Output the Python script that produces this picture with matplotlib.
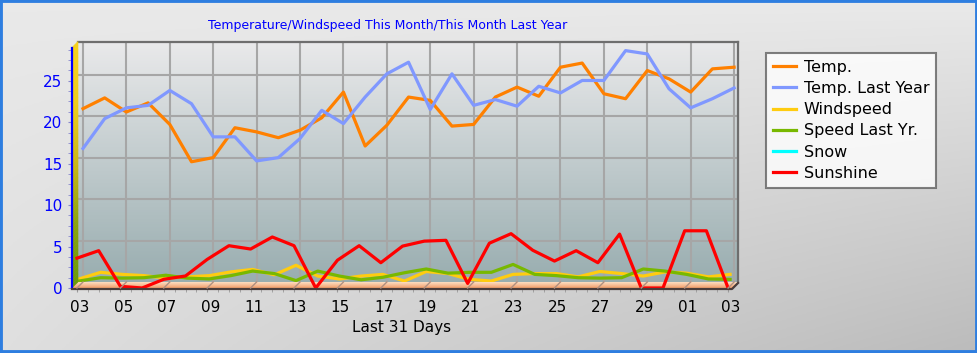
import numpy as np
import matplotlib
matplotlib.use("Agg")
import matplotlib.pyplot as plt
from matplotlib.patches import Polygon, Rectangle
from matplotlib.lines import Line2D
from matplotlib.ticker import MultipleLocator
from matplotlib import transforms

W, H = 978, 353

# data (31 days, 03 -> 03)
day_labels = ["03", "05", "07", "09", "11", "13", "15", "17",
              "19", "21", "23", "25", "27", "29", "01", "03"]
temp = [20.9, 22.2, 20.5, 21.6, 19.0, 14.5, 15.0, 18.6, 18.1, 17.4, 18.3,
        19.8, 22.9, 16.4, 18.9, 22.3, 21.9, 18.8, 19.0, 22.3, 23.5, 22.4,
        25.9, 26.4, 22.7, 22.1, 25.5, 24.5, 22.9, 25.7, 25.9]
temp_last = [16.1, 19.7, 21.0, 21.3, 23.1, 21.5, 17.5, 17.5, 14.6, 15.0, 17.3,
             20.7, 19.1, 22.3, 25.1, 26.5, 20.8, 25.1, 21.3, 22.0, 21.2, 23.6,
             22.8, 24.3, 24.3, 27.9, 27.5, 23.3, 21.0, 22.1, 23.4]
wind = [0.85, 1.65, 1.4, 1.25, 0.95, 1.1, 1.25, 1.7, 2.0, 1.35, 2.5, 1.2,
        0.85, 1.2, 1.4, 0.6, 1.75, 1.5, 0.8, 0.6, 1.4, 1.5, 1.5, 1.1, 1.75,
        1.5, 1.2, 1.7, 1.55, 1.1, 1.4]
wind_last = [0.6, 1.0, 0.95, 1.0, 1.3, 0.95, 0.85, 1.25, 1.8, 1.5, 0.65, 1.8,
             1.2, 0.75, 1.05, 1.6, 2.05, 1.55, 1.65, 1.65, 2.6, 1.4, 1.25, 1.0,
             0.95, 1.0, 2.05, 1.8, 1.4, 0.85, 0.8]
snow = []
sunshine = [3.6, 4.5, 0.2, 0.0, 1.05, 1.45, 3.45, 5.1, 4.7, 6.15, 5.1, 0.0,
            3.35, 5.1, 3.05, 5.05, 5.65, 5.75, 0.55, 5.4, 6.55, 4.55, 3.25,
            4.5, 3.05, 6.5, 0.0, 0.0, 6.9, 6.9, 0.0]

names = ["Temp.", "Temp. Last Year", "Windspeed", "Speed Last Yr.", "Snow", "Sunshine"]
colors = ["#ff8000", "#8098ff", "#ffcc10", "#78b800", "#00ffff", "#ff0000"]

x = np.arange(len(temp))
XLIM = (-0.23, 30.18)
YLIM = (0, 29)


def fx(px):
    return px / W


def fy(py):
    return 1 - py / H


def gradient_shape(fig, pts, stops, z):
    # vertical gradient through the colour stops, clipped to a polygon (pixel coords)
    xs = [p[0] for p in pts]
    ys = [p[1] for p in pts]
    x0, x1, y0, y1 = min(xs), max(xs), min(ys), max(ys)
    gax = fig.add_axes([fx(x0), fy(y1), fx(x1) - fx(x0), fy(y0) - fy(y1)], zorder=z)
    gax.axis("off")
    t = np.linspace(0, 1, 64)
    pos = np.linspace(0, 1, len(stops))
    img = np.stack([np.interp(t, pos, [s[k] for s in stops]) for k in range(3)], axis=-1)
    im = gax.imshow(np.repeat(img[:, None, :], 4, axis=1), extent=[x0, x1, y1, y0],
                    aspect="auto", interpolation="nearest")
    gax.set_xlim(x0, x1)
    gax.set_ylim(y1, y0)
    im.set_clip_path(Polygon(pts, closed=True, transform=gax.transData))
    return gax


fig = plt.figure(figsize=(W / 100, H / 100), dpi=100)

# page background
bg = fig.add_axes([0, 0, 1, 1], zorder=-10)
bg.axis("off")
yy, xx = np.mgrid[0:1:120j, 0:1:240j]
shade = 0.915 - 0.04 * yy - 0.14 * xx * yy
bg.imshow(np.dstack([shade, shade, shade]), extent=[0, 1, 0, 1], aspect="auto")
bg.set_xlim(0, 1)
bg.set_ylim(0, 1)
fig.patches.append(Rectangle((0, 0), 1, 1, transform=fig.transFigure, fill=False,
                             edgecolor="#2e7ee0", linewidth=4.2, zorder=20))

# back wall
ax = fig.add_axes([fx(78), fy(282), fx(738) - fx(78), fy(41.5) - fy(282)], zorder=1)
t = np.linspace(0, 1, 100)[:, None, None]
wall = np.array([0.915, 0.915, 0.92]) * (1 - t) + np.array([0.60, 0.68, 0.69]) * t
ax.imshow(wall, extent=[XLIM[0], XLIM[1], YLIM[0], YLIM[1]], aspect="auto", zorder=0.1)
ax.set_xlim(*XLIM)
ax.set_ylim(*YLIM)
ax.set_xticks(range(0, 31, 2))
ax.set_yticks(range(5, 29, 5))
ax.set_axisbelow(True)
ax.grid(True, color="#a6a6a6", linewidth=1.5)
ax.tick_params(length=0, labelbottom=False, labelleft=False)
for s in ["left", "bottom"]:
    ax.spines[s].set_visible(False)
for s in ["top", "right"]:
    ax.spines[s].set_color("#6e6e6e")
    ax.spines[s].set_linewidth(1.6)

ax.plot(x, temp, color=colors[0], lw=2.3, zorder=3, clip_on=False)
ax.plot(x, temp_last, color=colors[1], lw=2.3, zorder=3, clip_on=False)
mid = transforms.offset_copy(ax.transData, fig=fig, x=-4, y=-4, units="dots")
ax.plot(x, wind, color=colors[2], lw=2.3, zorder=3, transform=mid, clip_on=False)
ax.plot(x, wind_last, color=colors[3], lw=2.3, zorder=3, transform=mid, clip_on=False)

# floor
gradient_shape(fig, [(78, 282), (738, 282), (732, 288), (72, 288)],
               [(0.99, 0.87, 0.76), (0.95, 0.62, 0.42)], 2)
fig.lines.append(Line2D([fx(72), fx(732), fx(738)], [fy(289), fy(289), fy(283)],
                        transform=fig.transFigure, color="#4a3c3a", lw=1.6, zorder=5))
to_fig = fig.transFigure.inverted()
for i in range(0, 31, 2):
    bx, by = to_fig.transform(ax.transData.transform((i, 0)))
    fig.lines.append(Line2D([bx, bx - 6 / W], [by, by - 6 / H], transform=fig.transFigure,
                            color="#b09080", lw=1.0, zorder=5))

# front plane: axis labels and sunshine
fax = fig.add_axes([fx(72), fy(288), fx(738) - fx(78), fy(41.5) - fy(282)], zorder=3)
fax.patch.set_visible(False)
fax.set_xlim(*XLIM)
fax.set_ylim(*YLIM)

# left wall drawn inside the front axes, below its blue spine: yellow top to green bottom
wall_stops = [(0.97, 0.82, 0.10), (0.94, 0.80, 0.10), (0.80, 0.72, 0.08),
              (0.55, 0.64, 0.05), (0.42, 0.60, 0.04)]
n_sl = 60
edges = np.linspace(0, 1, n_sl + 1)
pos = np.linspace(0, 1, len(wall_stops))
for k in range(n_sl):
    a, b = edges[k], edges[k + 1]
    c = tuple(np.interp((a + b) / 2, pos, [s[j] for s in wall_stops]) for j in range(3))
    ya, yb = 41.5 + a * 240.5, 41.5 + b * 240.5
    fax.add_patch(Polygon([(fx(72), fy(ya + 6)), (fx(78), fy(ya)),
                           (fx(78), fy(yb)), (fx(72), fy(yb + 6))],
                          closed=True, transform=fig.transFigure, facecolor=c,
                          edgecolor=c, linewidth=0.4, clip_on=False, zorder=1.5))

fax.plot(x, sunshine, color=colors[5], lw=2.3, clip_on=False)
for s in ["top", "right", "bottom"]:
    fax.spines[s].set_visible(False)
fax.spines["left"].set_color("#0000ff")
fax.spines["left"].set_linewidth(1.6)
fax.set_yticks(range(0, 26, 5))
fax.yaxis.set_minor_locator(MultipleLocator(1.25))
fax.set_xticks(range(0, 31, 2))
fax.set_xticklabels(day_labels)
fax.xaxis.set_minor_locator(MultipleLocator(0.5))
fax.tick_params(axis="y", which="both", colors="#8888cc", labelcolor="#0000ff",
                labelsize=11, length=3, pad=4)
fax.tick_params(axis="x", which="both", colors="#999999", labelcolor="black",
                labelsize=11, length=3, pad=6)
shift = transforms.ScaledTranslation(3 / 100, 0, fig.dpi_scale_trans)
for lab in fax.get_xticklabels():
    lab.set_transform(lab.get_transform() + shift)
fax.set_xlabel("Last 31 Days", fontsize=11, labelpad=3)

fig.text(fx(388), fy(25), "Temperature/Windspeed This Month/This Month Last Year",
         color="#0000ff", fontsize=9, ha="center", va="center")

handles = [Line2D([], [], color=c, lw=2.3) for c in colors]
leg = fig.legend(handles, names, loc="upper left", bbox_to_anchor=(fx(766), fy(52.5)),
                 fontsize=11.5, frameon=True, fancybox=False, edgecolor="#606060",
                 handlelength=1.45, handletextpad=0.45, labelspacing=0.39,
                 borderpad=0.45, borderaxespad=0)
leg.get_frame().set_linewidth(1.5)
leg.set_zorder(10)

fig.savefig("out.png", dpi=100)
